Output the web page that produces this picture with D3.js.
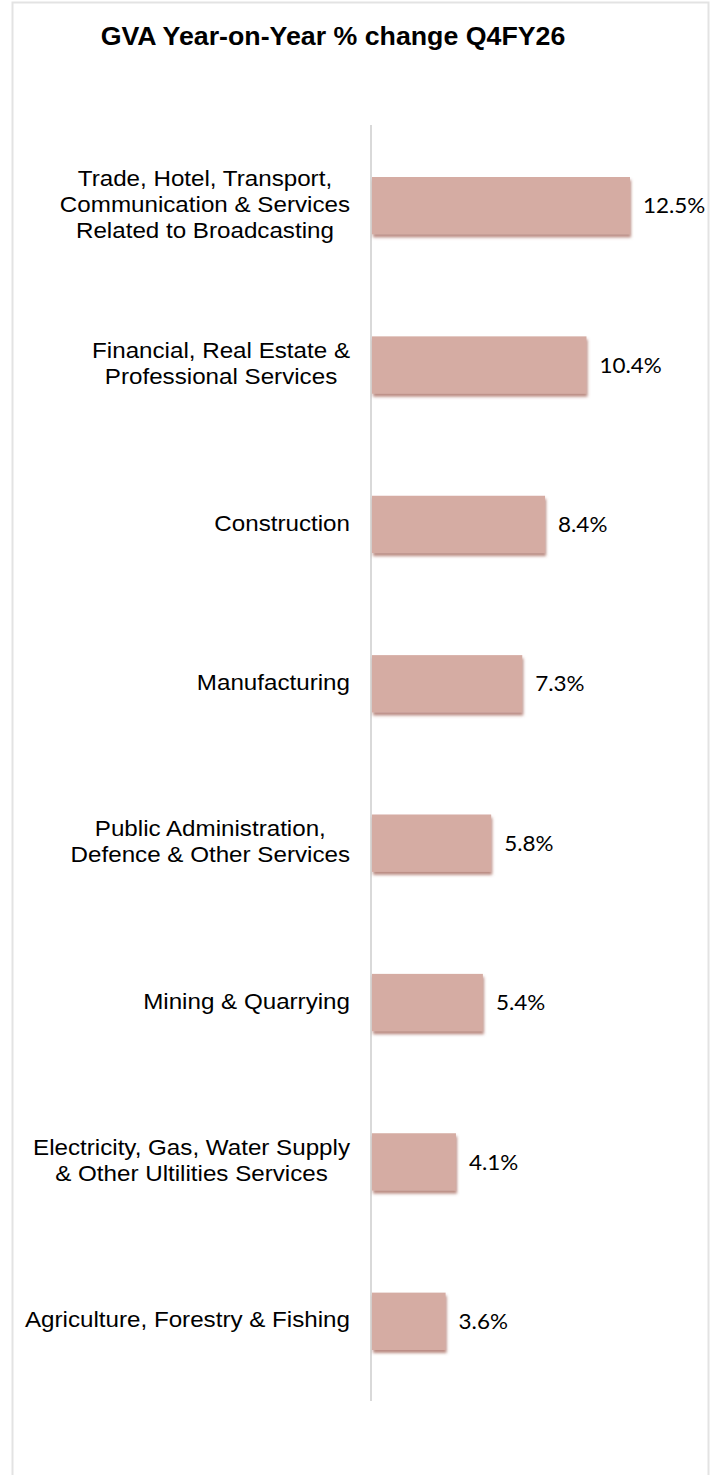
<!DOCTYPE html>
<html>
<head>
<meta charset="utf-8">
<script src="https://cdn.jsdelivr.net/npm/d3@7"></script>
<style>
  body { margin: 0; background: #fff; }
  svg { display: block; }
</style>
</head>
<body>
<div id="chart"></div>
<script>
var width = 710;
var height = 1475;

var categories = [
  ["Trade, Hotel, Transport,", "Communication & Services", "Related to Broadcasting"],
  ["Financial, Real Estate &", "Professional Services"],
  ["Construction"],
  ["Manufacturing"],
  ["Public Administration,", "Defence & Other Services"],
  ["Mining & Quarrying"],
  ["Electricity, Gas, Water Supply", "& Other Ultilities Services"],
  ["Agriculture, Forestry & Fishing"]
];
var values = [12.5, 10.4, 8.4, 7.3, 5.8, 5.4, 4.1, 3.6];
var valueLabels = ["12.5%", "10.4%", "8.4%", "7.3%", "5.8%", "5.4%", "4.1%", "3.6%"];

// the source picture is a little wider than tall, text too
var stretch = 1.07;

var svg = d3.select("#chart")
    .append("svg")
    .attr("width", width)
    .attr("height", height);

// shadow under bars
var defs = svg.append("defs");
var f = defs.append("filter").attr("id", "shadow")
    .attr("x", "-10%").attr("y", "-10%").attr("width", "130%").attr("height", "140%");
f.append("feDropShadow")
    .attr("dx", 1).attr("dy", 3).attr("stdDeviation", 1.6)
    .attr("flood-color", "#9c5a4e").attr("flood-opacity", 0.7);

// outer border
svg.append("rect")
    .attr("x", 12.5).attr("y", 2.5)
    .attr("width", 696).attr("height", 1490)
    .attr("fill", "none")
    .attr("stroke", "#e3e3e3")
    .attr("stroke-width", 2);

svg.append("g")
    .attr("transform", "translate(333,45) scale(" + stretch + ",1)")
    .append("text")
    .attr("text-anchor", "middle")
    .attr("font-family", "Liberation Sans, Arial, sans-serif")
    .attr("font-weight", "bold")
    .attr("font-size", 25)
    .attr("fill", "#000")
    .text("GVA Year-on-Year % change Q4FY26");

var x0 = 371;
var x = d3.scaleLinear().domain([0, 12.5]).range([x0, 630]);
var y = d3.scaleBand()
    .domain(d3.range(values.length))
    .range([125, 1400])
    .paddingInner(0.64)
    .paddingOuter(0.32);

// axis line
svg.append("line")
    .attr("x1", x0).attr("x2", x0)
    .attr("y1", 125).attr("y2", 1401)
    .attr("stroke", "#d9d9d9")
    .attr("stroke-width", 2);

svg.selectAll("rect.bar")
    .data(values)
    .enter()
    .append("rect")
    .attr("class", "bar")
    .attr("x", x0 + 1)
    .attr("y", function(d, i) { return y(i) + 1; })
    .attr("width", function(d) { return x(d) - x0 - 1; })
    .attr("height", y.bandwidth())
    .attr("fill", "#d5aca3")
    .attr("filter", "url(#shadow)");

svg.selectAll("g.val")
    .data(values)
    .enter()
    .append("g")
    .attr("class", "val")
    .attr("transform", function(d, i) {
        return "translate(" + (x(d) + 13) + "," + (y(i) + y.bandwidth() / 2 + 1) + ") scale(" + stretch + ",1)";
    })
    .append("text")
    .attr("dy", "0.36em")
    .attr("font-family", "Lato, Open Sans, sans-serif")
    .attr("font-size", 21)
    .attr("fill", "#000")
    .text(function(d, i) { return valueLabels[i]; });

var lineH = 26;
var labels = svg.selectAll("g.cat")
    .data(categories)
    .enter()
    .append("g")
    .attr("class", "cat")
    .attr("transform", function(d, i) {
        return "translate(350," + (y(i) + y.bandwidth() / 2 - 1) + ") scale(" + stretch + ",1)";
    })
    .append("text")
    .attr("text-anchor", "middle")
    .attr("font-family", "Liberation Sans, Arial, sans-serif")
    .attr("font-size", 22.6)
    .attr("fill", "#000");

labels.each(function(lines) {
    var t = d3.select(this);
    var w = 0;
    lines.forEach(function(s, k) {
        t.append("tspan")
            .attr("y", (k - (lines.length - 1) / 2) * lineH)
            .attr("dy", "0.36em")
            .text(s);
    });
    // centre block of lines, right edge at the group origin
    t.selectAll("tspan").each(function() { w = Math.max(w, this.getComputedTextLength()); });
    t.selectAll("tspan").attr("x", -w / 2);
});
</script>
</body>
</html>
